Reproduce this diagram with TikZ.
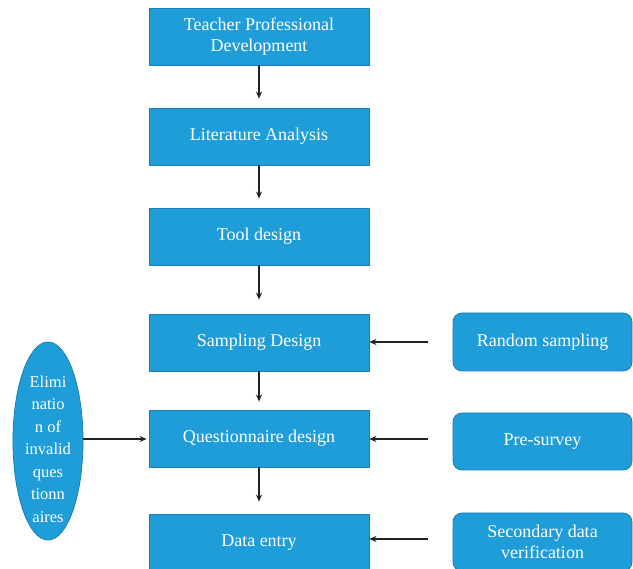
\documentclass[tikz,border=0pt]{standalone}
\usepackage{fontspec}
\setmainfont{Liberation Serif}
\usetikzlibrary{arrows.meta,shapes.geometric}
\definecolor{boxblue}{HTML}{1F9DD9}
\definecolor{edgeblue}{HTML}{1B7DB3}
\definecolor{arrowgray}{HTML}{222222}
\tikzset{
  mainbox/.style={draw=edgeblue, line width=0.8pt, fill=boxblue, text=white,
    minimum width=220pt, minimum height=57pt, align=center, inner sep=2pt,
    font=\fontsize{18}{21.5}\selectfont},
  sidebox/.style={mainbox, rounded corners=9pt, minimum width=179pt},
  ellbox/.style={ellipse, draw=edgeblue, line width=0.8pt, fill=boxblue,
    minimum width=70pt, minimum height=198pt, inner sep=0pt},
  elltext/.style={text=white, align=center, inner sep=0pt,
    font=\fontsize{16.5}{22.5}\selectfont},
  flow/.style={draw=arrowgray, line width=1.5pt, -{Stealth[length=7pt,width=6pt]}}
}
\begin{document}
\begin{tikzpicture}[x=1pt,y=-1pt]
\useasboundingbox (0,0) rectangle (633,569);
\clip (0,0) rectangle (633,569);
\node[mainbox] (tpd) at (259,36.5) {Teacher Professional\\Development};
\node[mainbox] (la) at (259,136.5) {Literature Analysis};
\node[mainbox] (td) at (259,236.5) {Tool design};
\node[mainbox] (sd) at (259,342.5) {Sampling Design};
\node[mainbox] (qd) at (259,438.5) {Questionnaire design};
\node[mainbox, minimum height=58pt] (de) at (259,543) {Data entry};
\node[sidebox, minimum height=58pt] (rs) at (542.5,342) {Random sampling};
\node[sidebox] (ps) at (542.5,441.5) {Pre-survey};
\node[sidebox, minimum height=58pt] (sdv) at (542.5,542) {Secondary data\\verification};
\node[ellbox] (el) at (48,441) {};
\node[elltext] (eltext) at ([yshift=-8pt]el.center) {Elimi\\natio\\n of\\invalid\\ques\\tionn\\aires};
\draw[flow, shorten >=9pt] (tpd) -- (la);
\draw[flow, shorten >=9pt] (la) -- (td);
\draw[flow, shorten >=14pt] (td) -- (sd);
\draw[flow, shorten >=8pt] (sd) -- (qd);
\draw[flow, shorten >=12pt] (qd) -- (de);
\draw[flow, shorten <=25pt] (rs.west |- 0,342) -- (sd.east |- 0,342);
\draw[flow, shorten <=25pt] (ps.west |- 0,439) -- (qd.east |- 0,439);
\draw[flow, shorten <=25pt] (sdv.west |- 0,539) -- (de.east |- 0,539);
\draw[flow, shorten >=2pt] (el.east |- 0,439) -- (qd.west |- 0,439);
\end{tikzpicture}
\end{document}
